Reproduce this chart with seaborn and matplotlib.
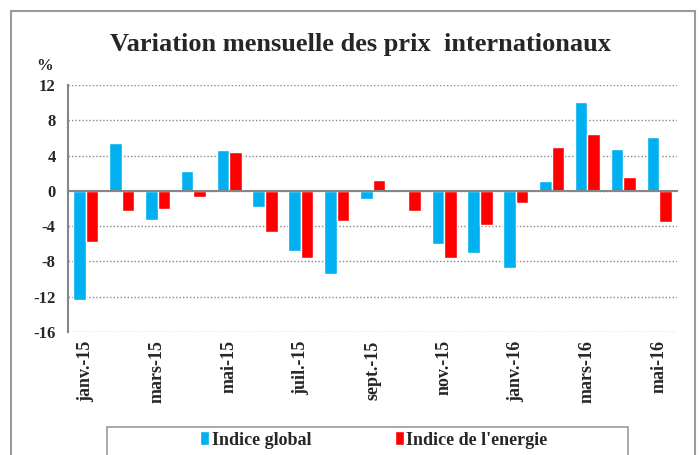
import pandas as pd
import numpy as np
import matplotlib
matplotlib.use('Agg')
import matplotlib.pyplot as plt
import seaborn as sns
from matplotlib.patches import Patch, Rectangle

# données : variation mensuelle (%)
mois = ['janv.-15', 'févr.-15', 'mars-15', 'avr.-15', 'mai-15', 'juin-15',
        'juil.-15', 'août-15', 'sept.-15', 'oct.-15', 'nov.-15', 'déc.-15',
        'janv.-16', 'févr.-16', 'mars-16', 'avr.-16', 'mai-16']
indice_global = [-12.4, 5.4, -3.3, 2.3, 4.6, -1.8, -6.8, -9.4, -0.9, 0.2,
                 -6.0, -7.1, -8.7, 1.1, 10.1, 4.8, 6.1]
indice_energie = [-5.8, -2.3, -2.1, -0.7, 4.4, -4.7, -7.6, -3.4, 1.2, -2.3,
                  -7.6, -3.9, -1.4, 5.0, 6.5, 1.6, -3.5]
series = ['Indice global', "Indice de l'energie"]
couleurs = ['#00B0F0', '#FF0000']

df = pd.DataFrame({
    'Mois': mois * 2,
    'Serie': [series[0]] * len(mois) + [series[1]] * len(mois),
    'Valeur': indice_global + indice_energie,
})

sns.set_style('white')
plt.rcParams['font.family'] = ['Liberation Serif', 'DejaVu Serif']
plt.rcParams['font.weight'] = 'bold'

fig = plt.figure(figsize=(6.99, 4.55), dpi=100)
ax = fig.add_axes([68 / 699, 1 - 332 / 455, (677 - 68) / 699, (332 - 85) / 455])

sns.barplot(data=df, x='Mois', y='Valeur', hue='Serie', hue_order=series,
            palette=couleurs, width=0.7, ax=ax, legend=False, saturation=1)

grey = '#868686'
ax.set_ylim(-16, 12)
ax.set_xlim(-0.5, len(mois) - 0.5)
ax.set_yticks(np.arange(-16, 13, 4))
ax.set_yticklabels([str(v) for v in np.arange(-16, 13, 4)], fontsize=12, fontweight='bold')
ax.yaxis.grid(True, color=grey, linestyle=(0, (1, 1.5)), linewidth=1)
ax.set_axisbelow(True)
ax.tick_params(axis='y', length=4, color=grey, direction='out', pad=5)
ax.set_xlabel('')
ax.set_ylabel('')

for s in ['top', 'right']:
    ax.spines[s].set_visible(False)
ax.spines['left'].set_color(grey)
ax.spines['left'].set_linewidth(1.5)
ax.spines['bottom'].set_position(('data', 0))
ax.spines['bottom'].set_color(grey)
ax.spines['bottom'].set_linewidth(1.5)
ax.spines['bottom'].set_zorder(5)

# petites graduations sur la ligne zéro
ax.set_xticks(np.arange(1.5, len(mois) - 1, 2))
ax.set_xticklabels([])
ax.tick_params(axis='x', length=4, color=grey, direction='out', width=1.2)

# étiquettes des mois en bas
sec = ax.secondary_xaxis('bottom')
pos = np.arange(0, len(mois), 2)
sec.set_xticks(pos)
sec.set_xticklabels([mois[i] for i in pos], rotation=90, fontsize=13, fontweight='bold')
sec.tick_params(length=0, pad=6)
sec.spines['bottom'].set_visible(False)

fig.text(45 / 699, 1 - 66 / 455, '%', ha='center', va='center', fontsize=12, fontweight='bold')
fig.text(360 / 699, 1 - 45 / 455, 'Variation mensuelle des prix  internationaux',
         ha='center', va='center', fontsize=19, fontweight='bold')

# cadres
fig.patches.append(Rectangle((11 / 699, -0.05), (695 - 11) / 699, 1 - 11 / 455 + 0.05,
                             transform=fig.transFigure, fill=False, edgecolor='#9a9a9a',
                             linewidth=1.5))
fig.patches.append(Rectangle((107 / 699, -0.05), (628 - 107) / 699, 0.05 + 1 - 427 / 455,
                             transform=fig.transFigure, fill=False, edgecolor='#9a9a9a',
                             linewidth=1.2))

handles = [Patch(facecolor=c, label=s) for c, s in zip(couleurs, series)]
fig.legend(handles=handles, loc='center', bbox_to_anchor=(374 / 699, 1 - 440 / 455),
           ncol=2, frameon=False, handlelength=0.5, handleheight=0.8, handletextpad=0.15,
           columnspacing=4.6, prop={'weight': 'bold', 'size': 13})

fig.savefig('out.png', dpi=100)
